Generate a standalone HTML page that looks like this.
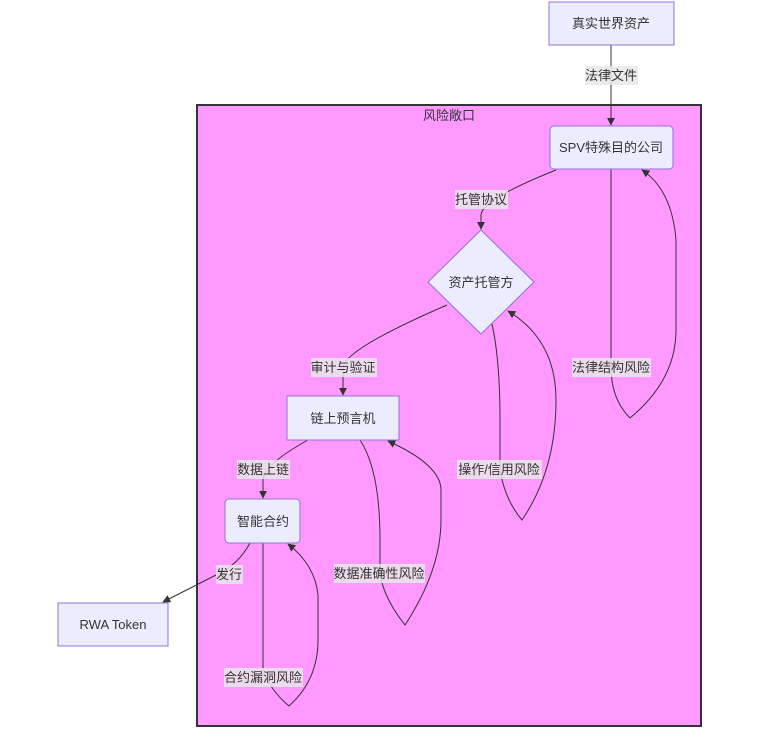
<!DOCTYPE html>
<html><head><meta charset="utf-8"><style>
html,body{margin:0;padding:0;background:#fff;}
svg text{font-family:"Liberation Sans","Noto Sans CJK SC",sans-serif;font-size:13px;fill:#333;}
</style></head><body>
<svg width="760" height="732" viewBox="0 0 760 732" xmlns="http://www.w3.org/2000/svg">
<defs><marker id="a" viewBox="0 0 10 10" refX="9" refY="5" markerWidth="8" markerHeight="8" orient="auto"><path d="M0,0L10,5L0,10z" fill="#333"/></marker></defs>
<rect x="197" y="105" width="504" height="621" fill="#ff99ff" stroke="#333" stroke-width="2"/>
<text x="449" y="120" text-anchor="middle">风险敞口</text>
<g fill="none" stroke="#333" stroke-width="1">
<path d="M611,45 L611,125" marker-end="url(#a)"/>
<path d="M556,170 Q481,200 481,215 L481,229" marker-end="url(#a)"/>
<path d="M611,169 L611,370 Q612,400 630,418 Q676,380 676,330 L676,240 Q672,190 642,170" marker-end="url(#a)"/>
<path d="M447,305 Q343,350 343,368 L343,395" marker-end="url(#a)"/>
<path d="M492,324 Q500,360 500,420 L500,470 Q505,500 522,520 Q556,470 556,400 Q556,340 508,311" marker-end="url(#a)"/>
<path d="M308,440 Q263,465 263,480 L263,498" marker-end="url(#a)"/>
<path d="M360,440 Q380,470 380,540 L380,575 Q385,600 405,625 Q441,570 441,520 L441,490 Q441,465 388,441" marker-end="url(#a)"/>
<path d="M250,543 Q238,565 216,575 L163,602" marker-end="url(#a)"/>
<path d="M263,543 L263,670 Q270,690 289,706 Q318,680 318,640 L318,595 Q315,565 288,544" marker-end="url(#a)"/>
</g>
<g fill="#ececff" stroke="#9370db" stroke-width="1">
<rect x="549" y="2" width="125" height="43"/>
<rect x="550" y="126" width="123" height="43" rx="4"/>
<polygon points="481,230 534,282 481,334 428,282"/>
<rect x="287" y="396" width="112" height="44"/>
<rect x="225" y="499" width="75" height="44" rx="4"/>
<rect x="58" y="603" width="110" height="43"/>
</g>
<g fill="#e8e8e8" opacity="0.85">
<rect x="585" y="66" width="53" height="19"/>
<rect x="455" y="190" width="53" height="19"/>
<rect x="572" y="358" width="79" height="19"/>
<rect x="311" y="358" width="66" height="19"/>
<rect x="457" y="460" width="85" height="19"/>
<rect x="237" y="460" width="53" height="19"/>
<rect x="334" y="564" width="91" height="19"/>
<rect x="216" y="565" width="27" height="19"/>
<rect x="224" y="668" width="79" height="19"/>
</g>
<g text-anchor="middle">
<text x="611" y="28">真实世界资产</text>
<text x="611" y="80">法律文件</text>
<text x="611" y="152">SPV特殊目的公司</text>
<text x="481" y="204">托管协议</text>
<text x="481" y="287">资产托管方</text>
<text x="611" y="372">法律结构风险</text>
<text x="343" y="372">审计与验证</text>
<text x="343" y="423">链上预言机</text>
<text x="499" y="474">操作/信用风险</text>
<text x="263" y="474">数据上链</text>
<text x="263" y="526">智能合约</text>
<text x="379" y="578">数据准确性风险</text>
<text x="229" y="579">发行</text>
<text x="113" y="629">RWA Token</text>
<text x="263" y="682">合约漏洞风险</text>
</g>
</svg>
</body></html>
